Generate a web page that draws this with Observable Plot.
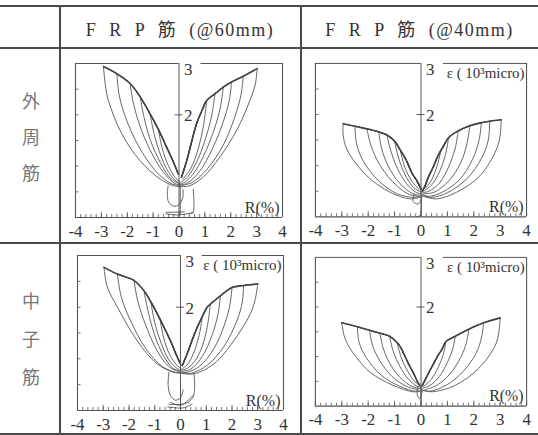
<!DOCTYPE html>
<html>
<head>
<meta charset="utf-8">
<script src="https://cdn.jsdelivr.net/npm/d3@7"></script>
<script src="https://cdn.jsdelivr.net/npm/@observablehq/plot@0.6"></script>
<style>
  body { margin: 0; background: #fff; }
  #fig { position: relative; width: 538px; height: 435px; overflow: hidden; background: #fff; }
  .hl { position: absolute; left: 0; width: 538px; background: #4a4a4a; }
  .vl { position: absolute; top: 5px; height: 428px; width: 1.5px; background: #4a4a4a; }
  .hdr { position: absolute; top: 15px; font: 18px "Liberation Serif", "Noto Sans CJK JP", serif; letter-spacing: 1.5px; color: #333; white-space: pre; text-align: center; }
  .rl { position: absolute; left: 19px; width: 24px; font: 18px "Noto Sans CJK JP", sans-serif; color: #777; text-align: center; line-height: 1; }
  .panel { position: absolute; }
  .panel svg { overflow: visible; }
  .panel svg text { font-family: "Liberation Serif", serif !important; }
</style>
</head>
<body>
<div id="fig"></div>
<script>
// Axis and heading text
const xTickLabels = [-4, -3, -2, -1, 0, 1, 2, 3, 4];
const yTickLabels = [2, 3];
const columnHeads = ["F  R  P  筋  (@60mm)", "F  R  P  筋  (@40mm)"];
const rowHeads = [["外", "周", "筋"], ["中", "子", "筋"]];
const strainLabel = "ε ( 10³micro)";
const driftLabel = "R(%)";

// Strain (10^3 micro) vs. drift R (%) — FRP hoops @60mm, outer bar
const p1LeftBackbone = [[-0.03,0.85],[-0.25,1.12],[-0.48,1.37],[-0.8,1.72],[-1.12,2.02],[-1.5,2.35],[-1.89,2.61],[-2.4,2.8],[-2.92,2.94]];
const p1LeftLoops = [
  [[-2.92,2.94],[-2.85,2.6],[-2.73,2.28],[-2.21,1.63],[-1.51,1.11],[-0.73,0.75],[-0.22,0.62],[0.05,0.6]],
  [[-2.4,2.8],[-2.3,2.35],[-1.95,1.8],[-1.4,1.25],[-0.8,0.85],[-0.3,0.66],[0.05,0.62]],
  [[-1.89,2.61],[-1.75,2.2],[-1.45,1.7],[-1.0,1.2],[-0.55,0.85],[-0.15,0.66],[0.05,0.64]],
  [[-1.5,2.35],[-1.35,1.95],[-1.1,1.5],[-0.7,1.05],[-0.3,0.75],[0.03,0.66]],
  [[-1.12,2.02],[-0.95,1.6],[-0.7,1.2],[-0.4,0.88],[-0.1,0.7],[0.03,0.67]],
  [[-0.8,1.72],[-0.65,1.35],[-0.42,1.02],[-0.15,0.78],[0.02,0.7]]
];
const p1RightBackbone = [[0.1,0.79],[0.3,1.11],[0.5,1.5],[0.68,1.83],[0.9,2.1],[1.07,2.28],[1.39,2.41],[1.71,2.54],[2.03,2.64],[2.48,2.75],[3.02,2.9]];
const p1RightLoops = [
  [[3.02,2.9],[2.95,2.6],[2.74,2.28],[2.23,1.7],[1.58,1.18],[0.94,0.79],[0.42,0.62],[0.05,0.6]],
  [[2.48,2.75],[2.4,2.4],[2.15,1.95],[1.7,1.4],[1.1,0.95],[0.5,0.68],[0.05,0.62]],
  [[2.03,2.64],[1.95,2.3],[1.7,1.85],[1.3,1.35],[0.8,0.9],[0.35,0.68],[0.05,0.63]],
  [[1.71,2.54],[1.6,2.15],[1.35,1.7],[0.95,1.2],[0.55,0.85],[0.2,0.68],[0.03,0.65]],
  [[1.39,2.41],[1.25,1.95],[1.0,1.5],[0.7,1.1],[0.35,0.8],[0.05,0.68]],
  [[1.07,2.28],[0.95,1.8],[0.75,1.35],[0.45,0.95],[0.15,0.75]]
];
const p1Residual = [
  [[-0.42,0.62],[-0.45,0.45],[-0.4,0.3],[-0.2,0.22],[0.0,0.25],[0.15,0.4],[0.15,0.55]],
  [[0.05,0.6],[0.05,0.06]],
  [[0.55,0.55],[0.55,0.1],[0.45,0.07]],
  [[-0.5,0.07],[0.0,0.05],[0.55,0.1]],
  [[-0.5,0.1],[0.2,0.11]]
];

// FRP hoops @40mm, outer bar
const p2LeftBackbone = [[0,0.54],[-0.15,0.7],[-0.35,0.86],[-0.55,1.1],[-0.79,1.31],[-1.0,1.48],[-1.29,1.6],[-1.6,1.66],[-2.05,1.72],[-2.5,1.77],[-2.95,1.82]];
const p2LeftLoops = [
  [[-2.95,1.82],[-2.95,1.6],[-2.8,1.31],[-2.05,0.8],[-1.17,0.48],[-0.42,0.35],[-0.05,0.38]],
  [[-2.5,1.77],[-2.45,1.45],[-2.2,1.1],[-1.6,0.7],[-0.9,0.45],[-0.3,0.38],[-0.02,0.4]],
  [[-2.05,1.72],[-1.9,1.4],[-1.6,1.05],[-1.1,0.7],[-0.5,0.45],[-0.1,0.4]],
  [[-1.6,1.66],[-1.5,1.35],[-1.25,1.0],[-0.8,0.65],[-0.3,0.45],[0,0.42]],
  [[-1.29,1.6],[-1.15,1.3],[-0.9,0.95],[-0.55,0.65],[-0.2,0.48],[0,0.45]],
  [[-1.0,1.48],[-0.85,1.15],[-0.6,0.82],[-0.3,0.58],[0,0.48]],
  [[-0.79,1.31],[-0.6,0.95],[-0.35,0.7],[-0.05,0.52]]
];
const p2RightBackbone = [[0.05,0.5],[0.15,0.6],[0.3,0.8],[0.47,0.98],[0.65,1.2],[0.85,1.38],[1.05,1.55],[1.41,1.68],[1.85,1.78],[2.29,1.84],[2.6,1.87],[3.04,1.9]];
const p2RightLoops = [
  [[3.04,1.9],[3.0,1.6],[2.86,1.32],[2.23,0.8],[1.35,0.48],[0.59,0.35],[0.1,0.4]],
  [[2.6,1.87],[2.55,1.5],[2.3,1.15],[1.75,0.75],[1.0,0.47],[0.4,0.38],[0.05,0.42]],
  [[2.29,1.84],[2.2,1.5],[1.95,1.12],[1.45,0.72],[0.8,0.48],[0.3,0.4],[0.05,0.44]],
  [[1.85,1.78],[1.75,1.45],[1.5,1.05],[1.05,0.7],[0.5,0.48],[0.1,0.45]],
  [[1.41,1.68],[1.3,1.35],[1.05,0.98],[0.7,0.66],[0.3,0.5],[0.05,0.47]],
  [[1.05,1.55],[0.92,1.2],[0.7,0.88],[0.4,0.62],[0.1,0.5]],
  [[0.75,1.28],[0.6,0.98],[0.4,0.72],[0.15,0.55]]
];
const p2Residual = [
  [[0.0,0.5],[0.0,0.06],[-0.05,0.02],[-0.18,0.0]],
  [[-0.25,0.45],[-0.3,0.3],[-0.1,0.25],[0.05,0.4]]
];

// FRP hoops @60mm, middle bar
const p3LeftBackbone = [[0,0.9],[-0.2,1.12],[-0.39,1.35],[-0.65,1.62],[-0.9,1.87],[-1.15,2.1],[-1.42,2.32],[-1.81,2.52],[-2.1,2.58],[-2.45,2.64],[-2.97,2.77]];
const p3LeftLoops = [
  [[-2.97,2.77],[-2.85,2.4],[-2.45,2.0],[-1.68,1.35],[-0.9,0.9],[-0.26,0.74],[0.02,0.72]],
  [[-2.45,2.64],[-2.3,2.2],[-1.95,1.75],[-1.35,1.2],[-0.7,0.85],[-0.2,0.74],[0.02,0.73]],
  [[-1.81,2.52],[-1.65,2.1],[-1.35,1.65],[-0.9,1.15],[-0.45,0.85],[-0.05,0.75]],
  [[-1.42,2.32],[-1.25,1.9],[-1.0,1.45],[-0.65,1.05],[-0.3,0.82],[0,0.76]],
  [[-1.15,2.1],[-1.0,1.7],[-0.75,1.3],[-0.45,0.98],[-0.15,0.82],[0,0.78]],
  [[-0.8,1.78],[-0.65,1.4],[-0.42,1.08],[-0.15,0.88],[0,0.82]]
];
const p3RightBackbone = [[0.07,0.87],[0.26,1.1],[0.45,1.36],[0.65,1.61],[0.85,1.82],[1.03,2.0],[1.16,2.06],[1.55,2.22],[2.0,2.38],[2.45,2.42],[3.0,2.45]];
const p3RightLoops = [
  [[3.0,2.45],[2.9,2.15],[2.71,1.87],[2.07,1.35],[1.29,0.9],[0.52,0.71],[0.05,0.72]],
  [[2.45,2.42],[2.4,2.1],[2.2,1.75],[1.7,1.25],[1.05,0.88],[0.4,0.72],[0.05,0.73]],
  [[2.0,2.38],[1.92,2.05],[1.7,1.65],[1.3,1.2],[0.75,0.86],[0.25,0.74],[0.03,0.74]],
  [[1.55,2.22],[1.45,1.85],[1.22,1.45],[0.85,1.05],[0.4,0.8],[0.05,0.76]],
  [[1.16,2.06],[1.05,1.65],[0.85,1.25],[0.55,0.95],[0.2,0.8],[0.02,0.78]],
  [[0.85,1.82],[0.72,1.45],[0.5,1.1],[0.25,0.88],[0.03,0.8]]
];
const p3Residual = [
  [[-0.45,0.74],[-0.48,0.5],[-0.4,0.3],[-0.2,0.2],[0.0,0.25],[0.1,0.4]],
  [[0.52,0.72],[0.55,0.5],[0.5,0.28],[0.3,0.16],[0.0,0.12],[-0.45,0.12]],
  [[0.0,0.75],[0.0,0.05]],
  [[-0.5,0.07],[0.1,0.05],[0.45,0.12]],
  [[-0.4,0.16],[0.0,0.1],[0.3,0.2],[0.5,0.3]]
];

// FRP hoops @40mm, middle bar
const p4LeftBackbone = [[-0.05,0.42],[-0.13,0.49],[-0.28,0.66],[-0.44,0.82],[-0.62,1.02],[-0.81,1.22],[-1.0,1.33],[-1.19,1.41],[-1.55,1.47],[-1.95,1.53],[-2.41,1.6],[-3.0,1.68]];
const p4LeftLoops = [
  [[-3.0,1.68],[-2.9,1.4],[-2.67,1.15],[-1.94,0.69],[-1.06,0.42],[-0.31,0.29],[0,0.3]],
  [[-2.41,1.6],[-2.35,1.3],[-2.1,1.0],[-1.5,0.62],[-0.8,0.4],[-0.2,0.3],[0,0.32]],
  [[-1.95,1.53],[-1.85,1.25],[-1.6,0.95],[-1.1,0.6],[-0.55,0.4],[-0.1,0.33]],
  [[-1.55,1.47],[-1.45,1.2],[-1.2,0.88],[-0.8,0.58],[-0.35,0.4],[0,0.35]],
  [[-1.19,1.41],[-1.05,1.1],[-0.8,0.8],[-0.5,0.56],[-0.15,0.4],[0,0.38]],
  [[-0.9,1.28],[-0.75,0.98],[-0.5,0.7],[-0.25,0.5],[0,0.4]]
];
const p4RightBackbone = [[0.05,0.42],[0.12,0.49],[0.28,0.66],[0.44,0.82],[0.62,1.0],[0.81,1.16],[0.94,1.3],[1.3,1.41],[1.81,1.55],[2.37,1.68],[3.0,1.78]];
const p4RightLoops = [
  [[3.0,1.78],[2.95,1.5],[2.81,1.22],[2.18,0.76],[1.3,0.42],[0.44,0.29],[0.05,0.32]],
  [[2.37,1.68],[2.3,1.4],[2.1,1.08],[1.6,0.7],[0.95,0.42],[0.3,0.3],[0.03,0.33]],
  [[1.81,1.55],[1.72,1.28],[1.5,0.98],[1.1,0.65],[0.6,0.42],[0.15,0.33]],
  [[1.3,1.41],[1.2,1.15],[1.0,0.88],[0.7,0.6],[0.35,0.42],[0.05,0.36]],
  [[0.94,1.3],[0.85,1.05],[0.65,0.78],[0.4,0.55],[0.15,0.42],[0,0.38]]
];
const p4Residual = [
  [[0.0,0.42],[0.0,0.02]],
  [[-0.1,0.4],[-0.15,0.25],[-0.05,0.15],[0.05,0.3]]
];

// Panel layout: plot frame edges in page pixels
const panels = [
  {frame: [75, 282, 63, 217], left: [p1LeftBackbone, p1LeftLoops], right: [p1RightBackbone, p1RightLoops], residual: p1Residual, strain: false},
  {frame: [315, 527, 63, 217], left: [p2LeftBackbone, p2LeftLoops], right: [p2RightBackbone, p2RightLoops], residual: p2Residual, strain: true},
  {frame: [77, 283, 255, 410], left: [p3LeftBackbone, p3LeftLoops], right: [p3RightBackbone, p3RightLoops], residual: p3Residual, strain: true},
  {frame: [315, 528, 257, 407], left: [p4LeftBackbone, p4LeftLoops], right: [p4RightBackbone, p4RightLoops], residual: p4Residual, strain: true}
];

const fig = document.getElementById("fig");

// Table rules
[[5, 2], [47, 1.5], [242, 1.5], [433, 1.5]].forEach(([y, h]) => {
  const d = document.createElement("div");
  d.className = "hl"; d.style.top = y + "px"; d.style.height = h + "px";
  fig.appendChild(d);
});
[59, 300].forEach(x => {
  const d = document.createElement("div");
  d.className = "vl"; d.style.left = x + "px";
  fig.appendChild(d);
});

// Column headings
[[60, 240], [301, 237]].forEach(([x, w], i) => {
  const d = document.createElement("div");
  d.className = "hdr"; d.style.left = x + "px"; d.style.width = w + "px";
  d.textContent = columnHeads[i];
  fig.appendChild(d);
});

// Row headings, one character per line
[[91, 127, 163], [291, 329, 367]].forEach((ys, r) => {
  ys.forEach((y, k) => {
    const d = document.createElement("div");
    d.className = "rl"; d.style.top = y + "px";
    d.textContent = rowHeads[r][k];
    fig.appendChild(d);
  });
});

const minorTicks = d3.range(-40, 41, 2).map(v => v / 10);
const leftTicks = [0.5, 1, 1.5, 2, 2.5];
const serif = "Liberation Serif";
const ink = "#555";

function segmentsOf(p) {
  const loops = [], spines = [];
  let id = 0;
  const push = (rows, pts) => { pts.forEach(([R, e]) => rows.push({id, R, e})); id++; };
  for (const [backbone, cycles] of [p.left, p.right]) {
    push(spines, backbone);
    for (const loop of cycles) {
      const peak = loop[0];
      push(loops, [...backbone.filter(q => Math.abs(q[0]) < Math.abs(peak[0]) - 0.02), peak]);
      push(loops, loop);
    }
  }
  p.residual.forEach(pts => push(loops, pts));
  return {loops, spines};
}

const m = {l: 12, r: 12, t: 12, b: 30};

panels.forEach(p => {
  const [x0, x1, y0, y1] = p.frame;
  const {loops, spines} = segmentsOf(p);
  const marks = [
    Plot.line(loops, {x: "R", y: "e", z: "id", curve: "catmull-rom", stroke: "#555", strokeWidth: 0.9}),
    Plot.line(spines, {x: "R", y: "e", z: "id", curve: "catmull-rom", stroke: "#444", strokeWidth: 1.6}),
    Plot.ruleX([-4, 4], {y1: 0, y2: 3, stroke: ink, strokeWidth: 1.1}),
    Plot.ruleX([0], {y1: 0, y2: 3, stroke: ink, strokeWidth: 1}),
    Plot.ruleY([0], {x1: -4, x2: 4, stroke: ink, strokeWidth: 1.2}),
    Plot.ruleY([3], {x1: -4, x2: 0, stroke: ink, strokeWidth: 1}),
    Plot.ruleY([3], {x1: 0.85, x2: 4, stroke: ink, strokeWidth: 1}),
    Plot.ruleX(minorTicks, {y1: 0, y2: 0.06, stroke: ink, strokeWidth: 0.8}),
    Plot.ruleX(xTickLabels, {y1: 0, y2: 0.1, stroke: ink, strokeWidth: 0.8}),
    Plot.ruleY(leftTicks, {x1: -4, x2: -3.86, stroke: ink, strokeWidth: 0.8}),
    Plot.ruleY([2], {x1: -0.15, x2: 0.15, stroke: ink, strokeWidth: 1}),
    Plot.text(xTickLabels, {x: d => d, y: 0, text: d => String(d), dy: 14, fontSize: 17, fontFamily: serif, fill: "#333"}),
    Plot.text([yTickLabels[0]], {x: 0, y: d => d, text: d => String(d), textAnchor: "start", dx: 5, dy: 1, fontSize: 17, fontFamily: serif, fill: "#333"}),
    Plot.text([yTickLabels[1]], {x: 0, y: d => d, text: d => String(d), textAnchor: "start", dx: 5, dy: 6, fontSize: 17, fontFamily: serif, fill: "#333"}),
    Plot.text([driftLabel], {x: 4, y: 0, text: d => d, textAnchor: "end", dx: -3, dy: -10, fontSize: 16, fontFamily: serif, fill: "#333"})
  ];
  if (p.strain) {
    marks.push(Plot.text([strainLabel], {x: 4, y: 3, text: d => d, textAnchor: "end", dx: -2, dy: 10, fontSize: 15, fontFamily: serif, fill: "#333"}));
  }
  const chart = Plot.plot({
    width: x1 - x0 + m.l + m.r,
    height: y1 - y0 + m.t + m.b,
    marginLeft: m.l, marginRight: m.r, marginTop: m.t, marginBottom: m.b,
    x: {domain: [-4, 4], axis: null},
    y: {domain: [0, 3], axis: null},
    style: {background: "transparent", fontFamily: serif},
    marks
  });
  const wrap = document.createElement("div");
  wrap.className = "panel";
  wrap.style.left = (x0 - m.l) + "px";
  wrap.style.top = (y0 - m.t) + "px";
  wrap.appendChild(chart);
  fig.appendChild(wrap);
});
</script>
</body>
</html>
